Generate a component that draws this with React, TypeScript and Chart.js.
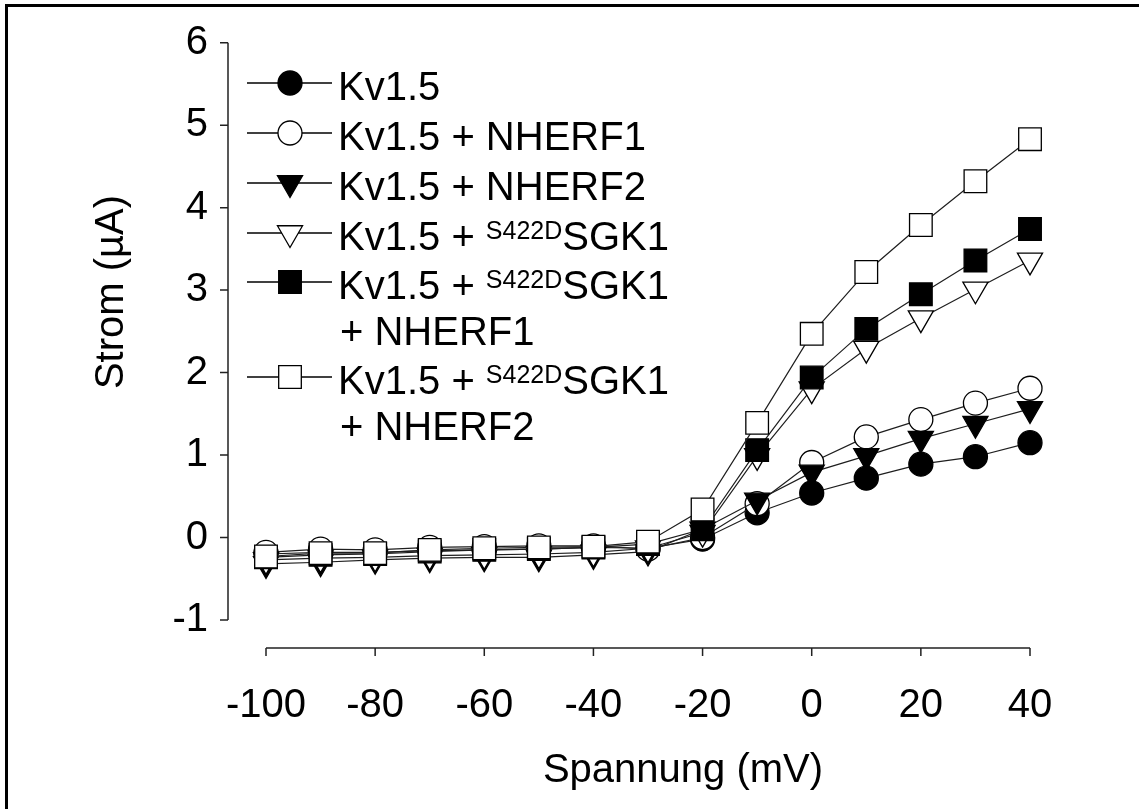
import React, { useEffect, useRef } from 'react';
import { Chart, registerables } from 'chart.js';

Chart.register(...registerables);

const voltages = [-100, -90, -80, -70, -60, -50, -40, -30, -20, -10, 0, 10, 20, 30, 40];

const kv15 = [-0.2, -0.18, -0.18, -0.16, -0.15, -0.14, -0.12, -0.13, -0.02, 0.3, 0.54, 0.72, 0.89, 0.98, 1.15];
const kvNherf1 = [-0.18, -0.14, -0.15, -0.12, -0.11, -0.1, -0.1, -0.14, 0.0, 0.41, 0.91, 1.22, 1.43, 1.63, 1.81];
const kvNherf2 = [-0.32, -0.3, -0.27, -0.25, -0.24, -0.24, -0.21, -0.17, 0.1, 0.45, 0.79, 0.99, 1.2, 1.38, 1.56];
const kvSgk1 = [-0.27, -0.25, -0.24, -0.22, -0.21, -0.2, -0.18, -0.13, 0.06, 0.99, 1.8, 2.29, 2.66, 3.01, 3.36];
const kvSgk1Nherf1 = [-0.24, -0.21, -0.2, -0.17, -0.15, -0.14, -0.12, -0.08, 0.1, 1.06, 1.94, 2.53, 2.95, 3.36, 3.74];
const kvSgk1Nherf2 = [-0.23, -0.19, -0.19, -0.15, -0.13, -0.12, -0.11, -0.05, 0.34, 1.39, 2.47, 3.22, 3.79, 4.32, 4.83];

const yTickValues = [-1, 0, 1, 2, 3, 4, 5, 6];
const xTickValues = [-100, -80, -60, -40, -20, 0, 20, 40];

const FONT = '"Liberation Sans", Arial, Helvetica, sans-serif';

type Marker = { style: 'circle' | 'triangle' | 'rect'; filled: boolean };

const markers: Marker[] = [
  { style: 'circle', filled: true },
  { style: 'circle', filled: false },
  { style: 'triangle', filled: true },
  { style: 'triangle', filled: false },
  { style: 'rect', filled: true },
  { style: 'rect', filled: false },
];

const radiusFor = (s: string) => (s === 'circle' ? 12 : s === 'triangle' ? 14.5 : 16);

const legendEntries = [
  { main: 'Kv1.5', sup: '', tail: '', second: '' },
  { main: 'Kv1.5 + NHERF1', sup: '', tail: '', second: '' },
  { main: 'Kv1.5 + NHERF2', sup: '', tail: '', second: '' },
  { main: 'Kv1.5 + ', sup: 'S422D', tail: 'SGK1', second: '' },
  { main: 'Kv1.5 + ', sup: 'S422D', tail: 'SGK1', second: '+ NHERF1' },
  { main: 'Kv1.5 + ', sup: 'S422D', tail: 'SGK1', second: '+ NHERF2' },
];
const legendRowY = [83, 133, 183, 233, 282, 377];

const seriesValues = [kv15, kvNherf1, kvNherf2, kvSgk1, kvSgk1Nherf1, kvSgk1Nherf2];
const seriesLabels = [
  'Kv1.5',
  'Kv1.5 + NHERF1',
  'Kv1.5 + NHERF2',
  'Kv1.5 + S422DSGK1',
  'Kv1.5 + S422DSGK1 + NHERF1',
  'Kv1.5 + S422DSGK1 + NHERF2',
];
const drawOrder = [5, 4, 3, 2, 1, 0];

function drawMarker(ctx: CanvasRenderingContext2D, m: Marker, x: number, y: number) {
  const r = radiusFor(m.style);
  ctx.save();
  ctx.beginPath();
  if (m.style === 'circle') {
    ctx.arc(x, y, r, 0, Math.PI * 2);
  } else if (m.style === 'triangle') {
    ctx.moveTo(x, y + r);
    ctx.lineTo(x - r * Math.sin(Math.PI / 3), y - r / 2);
    ctx.lineTo(x + r * Math.sin(Math.PI / 3), y - r / 2);
  } else {
    const s = r * Math.SQRT1_2;
    ctx.rect(x - s, y - s, 2 * s, 2 * s);
  }
  ctx.closePath();
  ctx.fillStyle = m.filled ? '#000' : '#fff';
  ctx.fill();
  ctx.lineWidth = 1.3;
  ctx.strokeStyle = '#000';
  ctx.stroke();
  ctx.restore();
}

const decorPlugin = {
  id: 'decor',
  beforeDraw(chart: any) {
    const ctx: CanvasRenderingContext2D = chart.ctx;
    ctx.save();
    ctx.fillStyle = '#fff';
    ctx.fillRect(0, 0, chart.width, chart.height);
    ctx.fillStyle = '#000';
    ctx.fillRect(5, 4, 3, chart.height - 4);
    ctx.fillRect(5, 4, chart.width - 5, 3);
    ctx.restore();
  },
  afterDraw(chart: any) {
    const ctx: CanvasRenderingContext2D = chart.ctx;
    const xs = chart.scales.x;
    const ys = chart.scales.y;
    const area = chart.chartArea;
    ctx.save();
    ctx.strokeStyle = '#222';
    ctx.lineWidth = 1.5;
    const ax = area.left - 38;
    ctx.beginPath();
    ctx.moveTo(ax, ys.getPixelForValue(6));
    ctx.lineTo(ax, ys.getPixelForValue(-1));
    yTickValues.forEach((v) => {
      const py = ys.getPixelForValue(v);
      ctx.moveTo(ax - 8, py);
      ctx.lineTo(ax, py);
    });
    ctx.stroke();
    const ay = area.bottom + 28;
    ctx.beginPath();
    ctx.moveTo(xs.getPixelForValue(-100), ay);
    ctx.lineTo(xs.getPixelForValue(40), ay);
    xTickValues.forEach((v) => {
      const px = xs.getPixelForValue(v);
      ctx.moveTo(px, ay);
      ctx.lineTo(px, ay + 8);
    });
    ctx.stroke();

    ctx.fillStyle = '#000';
    ctx.font = `40px ${FONT}`;
    ctx.textAlign = 'center';
    ctx.textBaseline = 'alphabetic';
    ctx.fillText('Spannung (mV)', 683, 782);
    ctx.save();
    ctx.translate(123, 292);
    ctx.rotate(-Math.PI / 2);
    ctx.fillText('Strom (\u00B5A)', 0, 0);
    ctx.restore();

    legendEntries.forEach((e, i) => {
      const y = legendRowY[i];
      ctx.save();
      ctx.strokeStyle = '#000';
      ctx.lineWidth = 1.3;
      ctx.beginPath();
      ctx.moveTo(247, y);
      ctx.lineTo(332, y);
      ctx.stroke();
      ctx.restore();
      drawMarker(ctx, markers[i], 290, y);
      const base = y + 17;
      let x = 338;
      ctx.textAlign = 'left';
      ctx.fillStyle = '#000';
      ctx.font = `40px ${FONT}`;
      ctx.fillText(e.main, x, base);
      x += ctx.measureText(e.main).width;
      if (e.sup) {
        ctx.font = `25px ${FONT}`;
        ctx.fillText(e.sup, x, base - 11);
        x += ctx.measureText(e.sup).width;
        ctx.font = `40px ${FONT}`;
        ctx.fillText(e.tail, x, base);
      }
      if (e.second) {
        ctx.fillText(e.second, 340, base + 46);
      }
    });
    ctx.restore();
  },
};

export default function App() {
  const canvasRef = useRef<HTMLCanvasElement | null>(null);

  useEffect(() => {
    if (!canvasRef.current) return;
    const datasets = seriesValues.map((vals, i) => {
      const m = markers[i];
      return {
        label: seriesLabels[i],
        data: voltages.map((v, j) => ({ x: v, y: vals[j] })),
        borderColor: '#1e1e1e',
        borderWidth: 1.2,
        pointStyle: m.style,
        pointRadius: radiusFor(m.style),
        pointHoverRadius: radiusFor(m.style),
        pointRotation: m.style === 'triangle' ? 180 : 0,
        pointBackgroundColor: m.filled ? '#000' : '#fff',
        pointBorderColor: '#000',
        pointBorderWidth: 1.3,
        order: drawOrder[i],
        clip: false as any,
        tension: 0,
      };
    });
    const chart = new Chart(canvasRef.current, {
      type: 'line',
      data: { datasets },
      options: {
        responsive: false,
        animation: false,
        layout: { padding: { left: 0, top: 42.7, right: 109, bottom: 0 } },
        plugins: { legend: { display: false }, tooltip: { enabled: false } },
        scales: {
          x: {
            type: 'linear',
            min: -100,
            max: 40,
            grid: { display: false, drawTicks: false },
            border: { display: false },
            afterFit: (s: any) => {
              s.height = 189;
              s.paddingLeft = 0;
              s.paddingRight = 0;
            },
            afterBuildTicks: (s: any) => {
              s.ticks = xTickValues.map((v) => ({ value: v }));
            },
            ticks: {
              color: '#000',
              font: { size: 40, family: FONT },
              padding: 62,
              maxRotation: 0,
              autoSkip: false,
            },
          },
          y: {
            type: 'linear',
            min: -1,
            max: 6,
            grid: { display: false, drawTicks: false },
            border: { display: false },
            afterFit: (s: any) => {
              s.width = 266;
              s.paddingTop = 0;
              s.paddingBottom = 0;
            },
            afterBuildTicks: (s: any) => {
              s.ticks = yTickValues.map((v) => ({ value: v }));
            },
            ticks: {
              color: '#000',
              font: { size: 40, family: FONT },
              padding: 58,
              autoSkip: false,
            },
          },
        },
      },
      plugins: [decorPlugin],
    });
    return () => chart.destroy();
  }, []);

  return (
    <div style={{ position: 'absolute', left: 0, top: 0, width: 1139, height: 809 }}>
      <canvas ref={canvasRef} width={1139} height={809} style={{ width: 1139, height: 809, display: 'block' }} />
    </div>
  );
}
